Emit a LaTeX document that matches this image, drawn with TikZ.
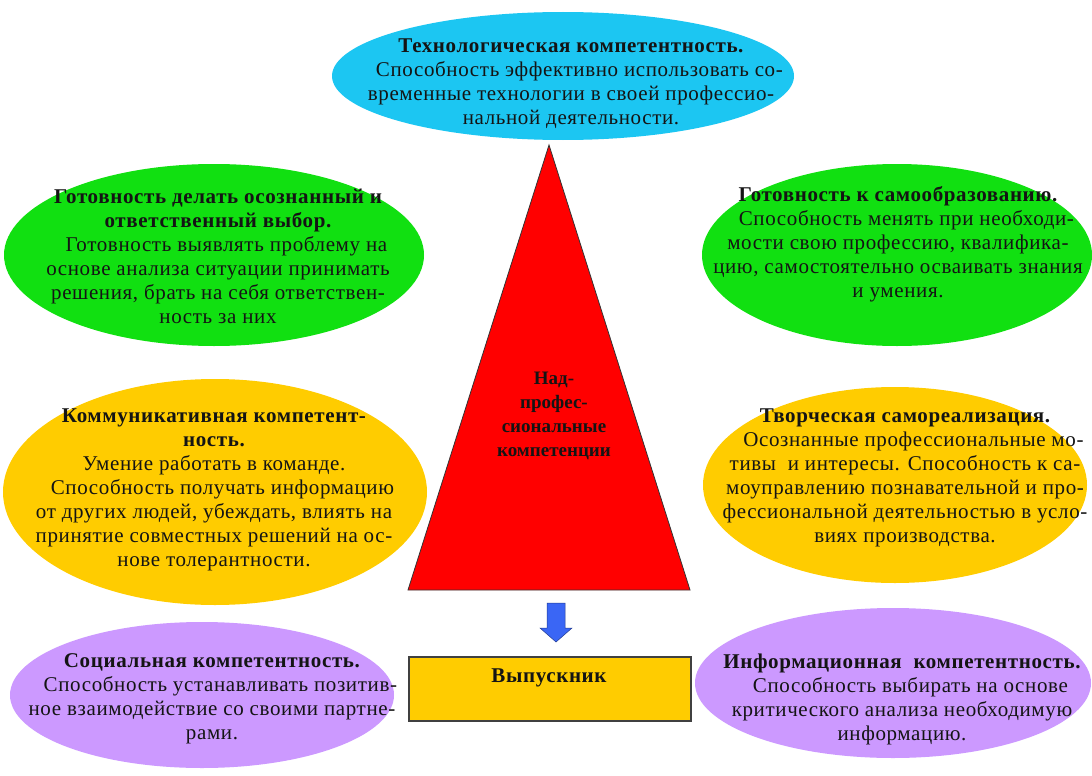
\documentclass[tikz,border=0pt]{standalone}
\usepackage{fontspec}
\setmainfont{Liberation Serif}[LetterSpace=3]
\newfontfamily\triafont{Liberation Serif}
\usetikzlibrary{shapes.geometric}
\definecolor{cyanE}{HTML}{1CC6F2}
\definecolor{greenE}{HTML}{11E011}
\definecolor{goldE}{HTML}{FFCC00}
\definecolor{purpleE}{HTML}{CC99FF}
\definecolor{redT}{HTML}{FF0000}
\definecolor{blueA}{HTML}{3A66F5}
\definecolor{txtc}{HTML}{141414}
\tikzset{
  ell/.style={ellipse, draw=none, inner sep=0pt},
  txt/.style={align=center, inner sep=0pt, text=txtc, font=\fontsize{21}{24}\selectfont},
}
\newcommand{\ind}{\hspace*{0.8em}}
\begin{document}
\begin{tikzpicture}[x=1pt,y=-1pt]
\useasboundingbox (0,0) rectangle (1092,776);
\fill[white] (0,0) rectangle (1092,776);
% ellipses
\node[ell, fill=cyanE, minimum width=462, minimum height=128] (top) at (563,76) {};
\node[ell, fill=greenE, minimum width=420, minimum height=182] (lg) at (214,255) {};
\node[ell, fill=greenE, minimum width=390, minimum height=182] (rg) at (897,255) {};
\node[ell, fill=goldE, minimum width=424, minimum height=226] (lo) at (215,492) {};
\node[ell, fill=goldE, minimum width=384, minimum height=196] (ro) at (895,485) {};
\node[ell, fill=purpleE, minimum width=384, minimum height=146] (lp) at (202,695) {};
\node[ell, fill=purpleE, minimum width=396, minimum height=150] (rp) at (893,683) {};
% triangle
\coordinate (ta) at (549,145);
\coordinate (tl) at (408,590);
\coordinate (tr) at (690,590);
\filldraw[fill=redT, draw=black!80, line width=0.8pt] (ta) -- (tl) -- (tr) -- cycle;
% arrow
\coordinate (arr) at (556,603);
\filldraw[fill=blueA, draw=blueA!60!black, line width=0.5pt]
  ([xshift=-9pt]arr) -- ([xshift=9pt]arr) -- ([xshift=9pt,yshift=-25pt]arr) --
  ([xshift=16pt,yshift=-25pt]arr) -- ([yshift=-39pt]arr) -- ([xshift=-16pt,yshift=-25pt]arr) --
  ([xshift=-9pt,yshift=-25pt]arr) -- cycle;
% box
\node[draw=black!75, line width=1.3pt, fill=goldE, minimum width=282, minimum height=64, inner sep=0pt] (box) at (550,689) {};
% texts
\node[txt] (ttop) at (571,84) {{\bfseries Технологическая компетентность.}\\
\ind Способность эффективно использовать со-\\
временные технологии в своей профессио-\\
нальной деятельности.};
\node[txt] (tlg) at (218,256) {{\bfseries Готовность делать осознанный и}\\
{\bfseries ответственный выбор.}\\
\ind Готовность выявлять проблему на\\
основе анализа ситуации принимать\\
решения, брать на себя ответствен-\\
ность за них};
\node[txt] (trg) at (898,244) {{\bfseries Готовность к самообразованию.}\\
\ind Способность менять при необходи-\\
мости свою профессию, квалифика-\\
цию, самостоятельно осваивать знания\\
и умения.};
\node[txt] (tlo) at (214,490) {{\bfseries Коммуникативная компетент-}\\
{\bfseries ность.}\\
Умение работать в команде.\\
\ind Способность получать информацию\\
от других людей, убеждать, влиять на\\
принятие совместных решений на ос-\\
нове толерантности.};
\node[txt] (tro) at (905,478) {{\bfseries Творческая самореализация.}\\
\ind Осознанные профессиональные мо-\\
тивы\ \ и интересы. Способность к са-\\
моуправлению познавательной и про-\\
фессиональной деятельностью в усло-\\
виях производства.};
\node[txt] (tlp) at (212,699) {{\bfseries Социальная компетентность.}\\
\ind Способность устанавливать позитив-\\
ное взаимодействие со своими партне-\\
рами.};
\node[txt] (trp) at (902,699) {{\bfseries Информационная\ \ компетентность.}\\
\ind Способность выбирать на основе\\
критического анализа необходимую\\
информацию.};
\node[txt, font=\triafont\bfseries\fontsize{19}{24}\selectfont] (ttri) at (554,416) {Над-\\профес-\\сиональные\\компетенции};
\node[txt, font=\bfseries\fontsize{21}{24}\selectfont] (tbox) at (549,678) {Выпускник};
\end{tikzpicture}
\end{document}
